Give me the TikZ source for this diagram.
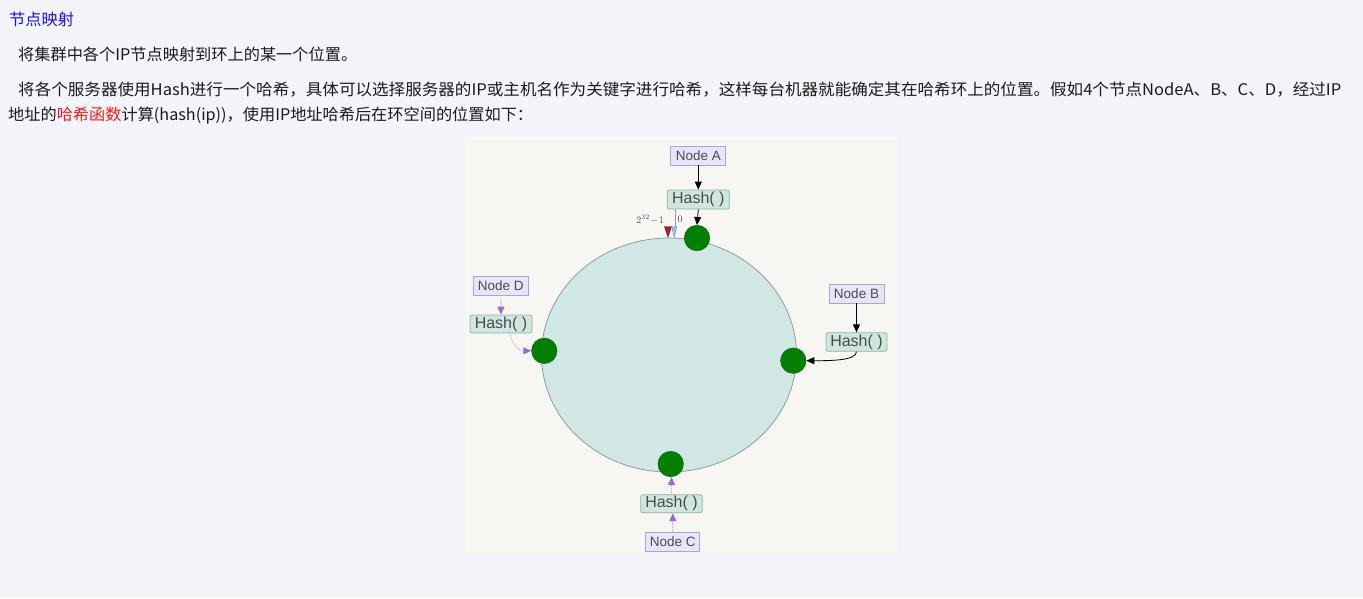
\documentclass[tikz,border=0pt]{standalone}
\usepackage{graphicx}
\usepackage{fontspec}
\setmainfont{Noto Sans CJK SC}
\newfontfamily\labelfont{Liberation Sans}
\usetikzlibrary{arrows.meta}

\definecolor{pagebg}{HTML}{F3F4F9}
\definecolor{imgbg}{HTML}{F7F6F2}
\definecolor{titleblue}{HTML}{1A0DFF}
\definecolor{bodytext}{HTML}{1A1A1A}
\definecolor{hlred}{HTML}{FF1A1A}
\definecolor{ringfill}{HTML}{D1E7E5}
\definecolor{ringdraw}{HTML}{8E9E9B}
\definecolor{dotgreen}{HTML}{037F03}
\definecolor{dotedge}{HTML}{0B650B}
\definecolor{nodefill}{HTML}{E7E5F7}
\definecolor{nodedraw}{HTML}{A9A5D3}
\definecolor{hashfill}{HTML}{CFE6DE}
\definecolor{hashdraw}{HTML}{8DB3A9}
\definecolor{labeltext}{HTML}{4A4A55}
\definecolor{tippurple}{HTML}{9B6BD3}
\definecolor{linepurple}{HTML}{BFA3D8}
\definecolor{markred}{HTML}{B3192B}
\definecolor{markblue}{HTML}{8EC3EA}

\tikzset{
  bodyline/.style={anchor=base west, inner sep=0pt, text=bodytext,
    font=\fontsize{16}{16}\selectfont},
  nodebox/.style={draw=nodedraw, fill=nodefill, line width=0.8pt,
    minimum width=55pt, minimum height=19pt, inner sep=0pt, text=labeltext,
    font=\labelfont\fontsize{13.5}{13.5}\selectfont},
  hashbox/.style={draw=hashdraw, fill=hashfill, line width=0.8pt,
    rounded corners=2pt, minimum width=62pt, minimum height=19pt,
    inner sep=0pt, text=labeltext, font=\labelfont\fontsize{16}{16}\selectfont},
  ringdot/.style={circle, fill=dotgreen, draw=dotedge, line width=0.5pt,
    minimum size=25.5pt, inner sep=0pt},
  blackarrow/.style={draw=black, line width=0.8pt,
    -{Triangle[length=8pt, width=7pt]}},
  purplearrow/.style={draw=linepurple, line width=0.9pt, densely dotted,
    -{Triangle[length=8pt, width=7pt, color=tippurple, fill=tippurple]}},
  markshaft/.style={draw=black!40, line width=0.5pt, double=imgbg,
    double distance=1.8pt},
  marklabel/.style={inner sep=0pt, text=labeltext, font=\fontsize{10}{10}\selectfont},
}

\begin{document}
\begin{tikzpicture}[x=1pt, y=-1pt]
  % page
  \fill[pagebg] (0,0) rectangle (1363,598);
  \useasboundingbox (0,0) rectangle (1363,598);

  % article text
  \node[bodyline, text=titleblue] (title) at (9,25) {\resizebox{65pt}{\height}{节点映射}};
  \node[bodyline] (para1) at (18,60) {\resizebox{339pt}{\height}{将集群中各个IP节点映射到环上的某一个位置。}};
  \node[bodyline] (para2a) at (18,95) {\resizebox{1323pt}{\height}{将各个服务器使用Hash进行一个哈希，具体可以选择服务器的IP或主机名作为关键字进行哈希，这样每台机器就能确定其在哈希环上的位置。假如4个节点NodeA、B、C、D，经过IP}};
  \node[bodyline] (para2b) at (8,120) {\resizebox{525pt}{\height}{地址的\textcolor{hlred}{哈希函数}计算(hash(ip))，使用IP地址哈希后在环空间的位置如下：}};

  % figure panel
  \fill[imgbg] (465,137) rectangle (897,555);
  \draw[white, line width=1pt] (465,137.5) -- (897,137.5);

  % hash ring
  \draw[draw=ringdraw, fill=ringfill, line width=0.8pt] (669,355) ellipse [x radius=127.5, y radius=117];

  % ring origin markers
  \coordinate (redTop) at (668,207);
  \coordinate (redMid) at (668,226.5);
  \coordinate (redEnd) at (668,237.5);
  \coordinate (blueTop) at (674.2,207);
  \coordinate (blueMid) at (674.2,226.5);
  \coordinate (blueEnd) at (674.2,237.5);
  \draw[markshaft] (redTop) -- (redMid);
  \draw[markshaft] (blueTop) -- (blueMid);
  \fill[markred, draw=markred!70!black, line width=0.3pt]
    ([xshift=-3.6pt]redMid) -- ([xshift=3.6pt]redMid) -- (redEnd) -- cycle;
  \fill[markblue, draw=markblue!70!black, line width=0.3pt]
    ([xshift=-2.6pt]blueMid) -- ([xshift=2.6pt]blueMid) -- (blueEnd) -- cycle;
  \node[marklabel, anchor=east] (maxlabel) at (664,219.5) {$2^{32}\!-\!1$};
  \node[marklabel, anchor=west] (zerolabel) at (677.5,219.5) {$0$};

  % positions of the four servers on the ring
  \node[ringdot] (dA) at (697,238) {};
  \node[ringdot] (dB) at (793.3,360.7) {};
  \node[ringdot] (dC) at (670.7,464) {};
  \node[ringdot] (dD) at (544.3,350.8) {};

  % server A
  \node[nodebox] (nA) at (698.3,155.5) {Node A};
  \node[hashbox] (hA) at (698.3,199.5) {Hash( )};
  \draw[blackarrow] (nA.south) -- (hA.north);
  \draw[blackarrow] (hA.south) -- (dA.north);

  % server B
  \node[nodebox] (nB) at (856.5,293.5) {Node B};
  \node[hashbox, minimum width=61pt, minimum height=18.5pt] (hB) at (856.5,342) {Hash( )};
  \draw[blackarrow] (nB.south) -- (hB.north);
  \draw[blackarrow] (hB.south) .. controls +(0,9) and +(24,0) .. (dB.east);

  % server C
  \node[nodebox, minimum width=54pt] (nC) at (672.8,541.7) {Node C};
  \node[hashbox, minimum width=61.5pt, minimum height=18pt] (hC) at (671.5,503.8) {Hash( )};
  \draw[purplearrow] (nC.north) -- (nC.north |- hC.south);
  \draw[purplearrow] (hC.north) -- (hC.north |- dC.south);

  % server D
  \node[nodebox] (nD) at (500.7,285.5) {Node D};
  \node[hashbox, minimum width=62pt, minimum height=18pt] (hD) at (501,324) {Hash( )};
  \coordinate (dStart) at (510,333);
  \draw[purplearrow] (nD.south) -- (hD.north);
  \draw[purplearrow] (dStart) .. controls +(1,11) and +(-12,0) .. (dD.west);
\end{tikzpicture}
\end{document}
